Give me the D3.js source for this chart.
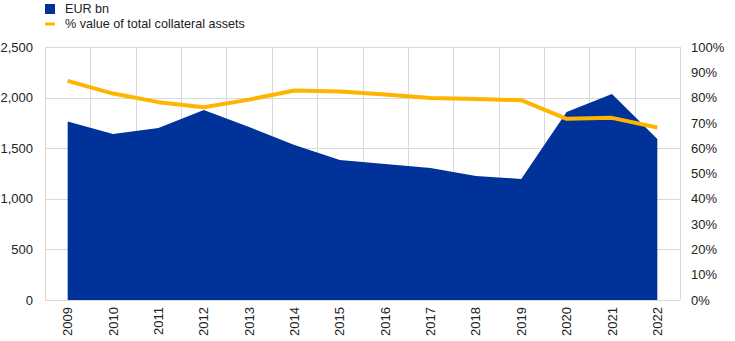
<!DOCTYPE html>
<html>
<head>
<meta charset="utf-8">
<script src="https://cdn.jsdelivr.net/npm/d3@7"></script>
<style>
body { margin: 0; background: #fff; }
text { font-family: "Liberation Sans", Arial, sans-serif; fill: #222; }
</style>
</head>
<body>
<div id="chart"></div>
<script>
const years = ["2009","2010","2011","2012","2013","2014","2015","2016","2017","2018","2019","2020","2021","2022"];
const eurBn = [1765, 1640, 1700, 1877, 1710, 1531, 1383, 1344, 1304, 1225, 1196, 1858, 2036, 1591];
const pctCollateral = [86.6, 81.6, 78.2, 76.2, 79.2, 82.8, 82.4, 81.2, 79.8, 79.4, 79.0, 71.6, 72.0, 68.2];
const leftTicks = [0, 500, 1000, 1500, 2000, 2500];
const rightTicks = [0, 10, 20, 30, 40, 50, 60, 70, 80, 90, 100];

const width = 735, height = 341;
const margin = { top: 47, right: 55, bottom: 41, left: 45 };

const svg = d3.select("#chart").append("svg")
    .attr("width", width)
    .attr("height", height);

const x = d3.scaleBand().domain(years).range([margin.left, width - margin.right]);
const yL = d3.scaleLinear().domain([0, 2500]).range([height - margin.bottom, margin.top]);
const yR = d3.scaleLinear().domain([0, 100]).range([height - margin.bottom, margin.top]);

// gridlines
const grid = svg.append("g").attr("stroke", "#d9d9d9").attr("stroke-width", 1);
grid.selectAll(".h").data(leftTicks).enter().append("line")
    .attr("x1", margin.left).attr("x2", width - margin.right)
    .attr("y1", d => Math.round(yL(d)) + 0.5).attr("y2", d => Math.round(yL(d)) + 0.5);
const bounds = years.map(d => x(d)).concat([width - margin.right]);
grid.selectAll(".v").data(bounds).enter().append("line")
    .attr("x1", d => Math.round(d) + 0.5).attr("x2", d => Math.round(d) + 0.5)
    .attr("y1", margin.top).attr("y2", height - margin.bottom);

// area
const cx = d => x(d) + x.bandwidth() / 2;
const area = d3.area()
    .x((d, i) => cx(years[i]))
    .y0(yL(0))
    .y1(d => yL(d));
svg.append("path").datum(eurBn)
    .attr("fill", "#003299")
    .attr("d", area);

// line
const line = d3.line()
    .x((d, i) => cx(years[i]))
    .y(d => yR(d));
svg.append("path").datum(pctCollateral)
    .attr("fill", "none")
    .attr("stroke", "#ffb400")
    .attr("stroke-width", 4)
    .attr("stroke-linejoin", "round")
    .attr("d", line);

// axes
const leftAxis = svg.append("g")
    .attr("transform", `translate(${margin.left},0)`)
    .call(d3.axisLeft(yL).tickValues(leftTicks).tickFormat(d3.format(",")).tickSize(0).tickPadding(12));
leftAxis.select(".domain").remove();
leftAxis.selectAll("text").attr("font-size", 13).style("font-family", "Liberation Sans, Arial, sans-serif");

const rightAxis = svg.append("g")
    .attr("transform", `translate(${width - margin.right},0)`)
    .call(d3.axisRight(yR).tickValues(rightTicks).tickFormat(d => d + "%").tickSize(0).tickPadding(11));
rightAxis.select(".domain").remove();
rightAxis.selectAll("text").attr("font-size", 13).style("font-family", "Liberation Sans, Arial, sans-serif");

const bottomAxis = svg.append("g")
    .attr("transform", `translate(0,${height - margin.bottom})`)
    .call(d3.axisBottom(x).tickSize(0));
bottomAxis.select(".domain").remove();
bottomAxis.selectAll("text")
    .attr("font-size", 13)
    .style("font-family", "Liberation Sans, Arial, sans-serif")
    .attr("transform", "rotate(-90)")
    .attr("text-anchor", "end")
    .attr("x", -7)
    .attr("y", 0)
    .attr("dy", "0.35em");

// legend
const legend = svg.append("g");
legend.append("rect").attr("x", 45).attr("y", 4).attr("width", 10).attr("height", 10).attr("fill", "#003299");
legend.append("text").attr("x", 65).attr("y", 9).attr("dy", "0.35em").attr("font-size", 12.6).text("EUR bn");
legend.append("line").attr("x1", 45).attr("x2", 55).attr("y1", 24).attr("y2", 24)
    .attr("stroke", "#ffb400").attr("stroke-width", 3);
legend.append("text").attr("x", 65).attr("y", 24).attr("dy", "0.35em").attr("font-size", 12.6).text("% value of total collateral assets");
</script>
</body>
</html>
